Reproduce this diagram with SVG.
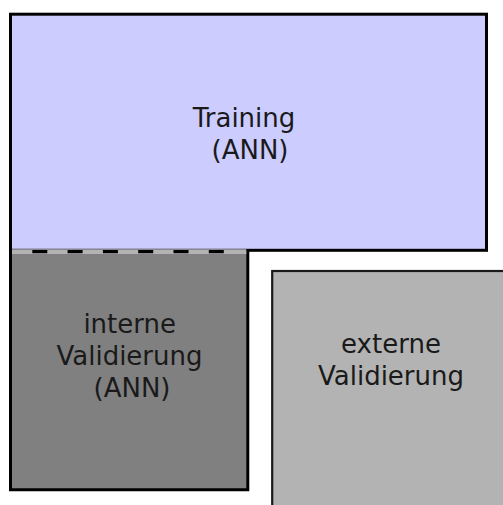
<svg xmlns="http://www.w3.org/2000/svg" width="503" height="505" viewBox="0 0 503 505">
  <style>
    .lbl { font-family: "DejaVu Sans", Verdana, sans-serif; font-size: 26px; fill: #1a1a1a; text-anchor: middle; }
    .edge { stroke: #000; stroke-width: 3; }
  </style>
  <rect width="503" height="505" fill="#ffffff"/>
  <g id="training">
    <rect x="10.5" y="14.2" width="476" height="236.1" fill="#ccccff" class="edge"/>
    <text class="lbl" x="244" y="126.7">Training</text>
    <text class="lbl" x="250" y="159">(ANN)</text>
  </g>
  <g id="interne-validierung">
    <rect x="10.5" y="251.5" width="237.3" height="238.2" fill="#808080"/>
    <path d="M10.5 250 V489.7 H247.8 V250" fill="none" class="edge"/>
    <line x1="12" y1="251.7" x2="246.3" y2="251.7" stroke="#b3b3b3" stroke-width="4.7"/>
    <line x1="32.3" y1="251.7" x2="240" y2="251.7" stroke="#000" stroke-width="3.3" stroke-dasharray="15 20.3"/>
    <text class="lbl" x="129.7" y="333.3">interne</text>
    <text class="lbl" x="129.5" y="365">Validierung</text>
    <text class="lbl" x="132" y="396.7">(ANN)</text>
  </g>
  <g id="externe-validierung">
    <rect x="272.2" y="271" width="240" height="250" fill="#b3b3b3" stroke="#1a1a1a" stroke-width="2.2"/>
    <text class="lbl" x="391" y="352.7">externe</text>
    <text class="lbl" x="391" y="385">Validierung</text>
  </g>
</svg>
